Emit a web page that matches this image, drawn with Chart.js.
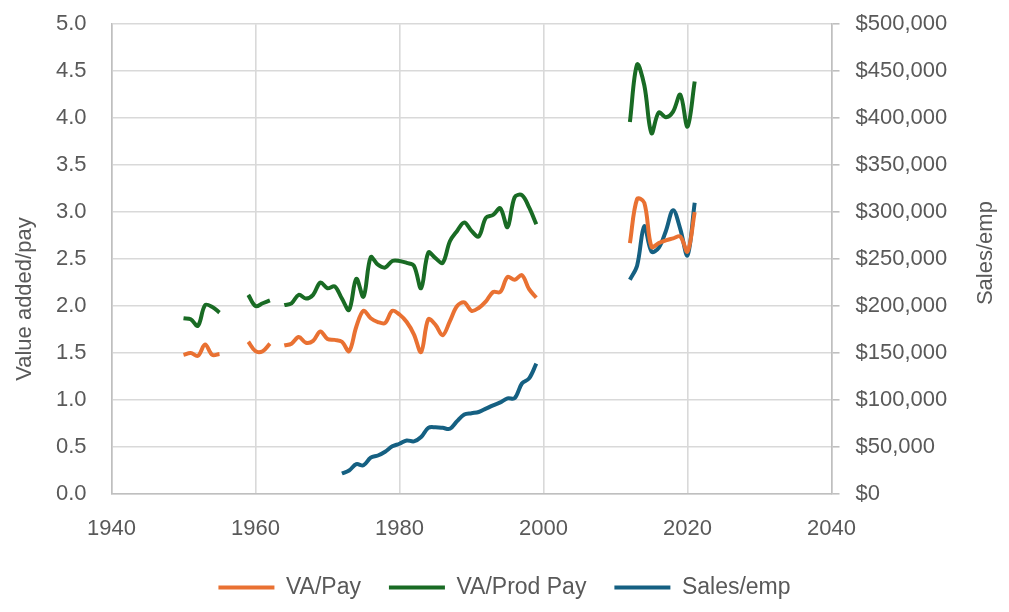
<!DOCTYPE html>
<html>
<head>
<meta charset="utf-8">
<script src="https://cdn.jsdelivr.net/npm/chart.js@4.4.1/dist/chart.umd.min.js"></script>
<style>
  html, body { margin: 0; padding: 0; background: #fff; overflow: hidden; }
  #wrap { width: 1009px; height: 612px; overflow: hidden; }
  /* the canvas is a bit taller than the page; the top strip Chart.js reserves is hidden */
  #chart { display: block; margin-top: -14px; }
</style>
</head>
<body>
<div id="wrap"><canvas id="chart" width="1009" height="626"></canvas></div>
<script>
// years with data; a null row breaks the line (1956, 1963, 2000)
const years = [
  1950, 1951, 1952, 1953, 1954, 1955, 1956,
  1959, 1960, 1961, 1962, 1963,
  1964, 1965, 1966, 1967, 1968, 1969, 1970, 1971, 1972, 1973,
  1974, 1975, 1976, 1977, 1978, 1979, 1980, 1981, 1982, 1983,
  1984, 1985, 1986, 1987, 1988, 1989, 1990, 1991, 1992, 1993,
  1994, 1995, 1996, 1997, 1998, 1999, 2000,
  2012, 2013, 2014, 2015, 2016, 2017, 2018, 2019, 2020, 2021
];

const vaPay = [
  1.48, 1.50, 1.47, 1.59, 1.48, 1.49, null,
  1.62, 1.52, 1.52, 1.60, null,
  1.58, 1.60, 1.67, 1.61, 1.63, 1.73, 1.65, 1.64, 1.62, 1.52,
  1.78, 1.95, 1.87, 1.83, 1.82, 1.95, 1.91, 1.83, 1.70, 1.51,
  1.86, 1.80, 1.69, 1.84, 2.00, 2.04, 1.95, 1.98, 2.05, 2.15,
  2.15, 2.31, 2.28, 2.33, 2.18, 2.09, null,
  2.67, 3.14, 3.10, 2.63, 2.67, 2.70, 2.72, 2.74, 2.58, 3.00
];

const vaProdPay = [
  1.87, 1.86, 1.79, 2.01, 1.99, 1.93, null,
  2.12, 2.00, 2.03, 2.06, null,
  2.01, 2.03, 2.12, 2.08, 2.12, 2.25, 2.19, 2.21, 2.08, 1.96,
  2.29, 2.10, 2.52, 2.44, 2.41, 2.48, 2.48, 2.46, 2.43, 2.19,
  2.57, 2.51, 2.46, 2.69, 2.80, 2.89, 2.80, 2.74, 2.94, 2.97,
  3.04, 2.84, 3.16, 3.18, 3.05, 2.87, null,
  3.96, 4.57, 4.35, 3.84, 4.06, 4.01, 4.07, 4.25, 3.91, 4.39
];

const salesEmp = [
  null, null, null, null, null, null, null,
  null, null, null, null, null,
  null, null, null, null, null, null, null, null, 21800, 25000,
  31700, 30600, 38700, 41000, 45000, 50700, 53500, 57000, 56000, 60600,
  70400, 71000, 70400, 69400, 77500, 84500, 86000, 87300, 90800, 94400,
  97500, 101800, 102000, 117600, 123000, 138700, null,
  228000, 243000, 285000, 258000, 262000, 280000, 302000, 282000, 254000, 310000
];

const seriesNames = ['VA/Pay', 'VA/Prod Pay', 'Sales/emp'];
const seriesColors = ['#E97132', '#196B24', '#156082'];
const axisTitles = ['Value added/pay', 'Sales/emp'];

const FONT = "'Liberation Sans', Arial, sans-serif";
const TEXT = '#595959';
const GRID = '#d9d9d9';
const AXIS = '#bfbfbf';

const pts = arr => years.map((yr, i) => ({ x: yr, y: arr[i] }));

function line(i, data, axis) {
  return {
    label: seriesNames[i],
    data: pts(data),
    yAxisID: axis,
    borderColor: seriesColors[i],
    backgroundColor: seriesColors[i],
    borderWidth: 4,
    pointRadius: 0,
    tension: 0.35,
    spanGaps: false
  };
}

// both axis titles read bottom-to-top, like the Excel original
const sideTitles = {
  id: 'sideTitles',
  afterDraw(chart) {
    const ctx = chart.ctx;
    const mid = (chart.chartArea.top + chart.chartArea.bottom) / 2;
    const put = (txt, x, y) => {
      ctx.save();
      ctx.translate(x, y);
      ctx.rotate(-Math.PI / 2);
      ctx.font = '22px ' + FONT;
      ctx.fillStyle = TEXT;
      ctx.textAlign = 'center';
      ctx.textBaseline = 'middle';
      ctx.fillText(txt, 0, 0);
      ctx.restore();
    };
    put(axisTitles[0], 25, mid + 40);
    put(axisTitles[1], 986, mid - 6);
  }
};

new Chart(document.getElementById('chart'), {
  type: 'line',
  data: {
    datasets: [
      line(0, vaPay, 'y'),
      line(1, vaProdPay, 'y'),
      line(2, salesEmp, 'y1')
    ]
  },
  plugins: [sideTitles],
  options: {
    responsive: false,
    animation: false,
    layout: { padding: { top: 23, bottom: 3, left: 0, right: 0 } },
    plugins: {
      tooltip: { enabled: false },
      legend: {
        position: 'bottom',
        labels: {
          color: TEXT,
          font: { family: FONT, size: 23 },
          boxWidth: 56,
          boxHeight: 4,
          padding: 28,
          generateLabels: (chart) => {
            const items = Chart.defaults.plugins.legend.labels.generateLabels(chart);
            items.forEach(it => { it.lineWidth = 0; });
            return items;
          }
        }
      }
    },
    scales: {
      x: {
        type: 'linear',
        min: 1940,
        max: 2040,
        ticks: { stepSize: 20, color: TEXT, font: { family: FONT, size: 22 }, padding: 22, callback: v => String(v) },
        grid: { color: GRID, lineWidth: 1.6, drawTicks: false },
        border: { color: AXIS, width: 1.6 },
        afterFit: s => { s.height = 54; }
      },
      y: {
        position: 'left',
        min: 0,
        max: 5,
        ticks: { stepSize: 0.5, color: TEXT, font: { family: FONT, size: 22 }, padding: 25, callback: v => v.toFixed(1) },
        grid: { color: GRID, lineWidth: 1.6, drawTicks: false },
        border: { color: AXIS, width: 1.6 },
        afterFit: s => { s.width = 111.5; }
      },
      y1: {
        position: 'right',
        min: 0,
        max: 500000,
        ticks: { stepSize: 50000, color: TEXT, font: { family: FONT, size: 22 }, padding: 16, callback: v => '$' + v.toLocaleString('en-US') },
        grid: { drawOnChartArea: false, drawTicks: true, tickLength: 8, color: AXIS, lineWidth: 1.6 },
        border: { color: AXIS, width: 1.6 },
        afterFit: s => { s.width = 177.5; }
      }
    }
  }
});
</script>
</body>
</html>
